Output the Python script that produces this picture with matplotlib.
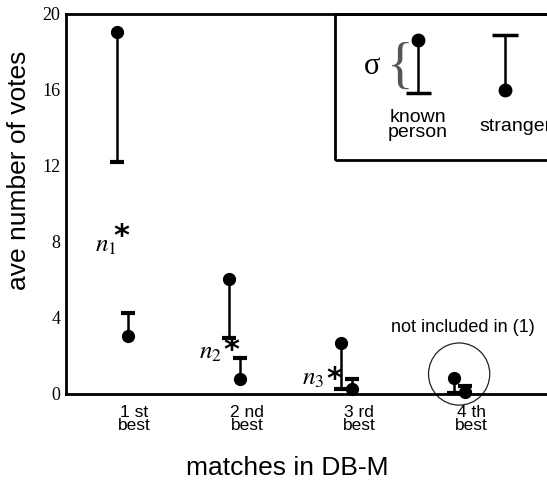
import matplotlib.pyplot as plt
from matplotlib.patches import Ellipse, Rectangle

# data
ranks = [1, 2, 3, 4]
rank_labels = ["1 st\nbest", "2 nd\nbest", "3 rd\nbest", "4 th\nbest"]
known_mean = [19.05, 6.05, 2.7, 0.83]
known_low = [12.2, 2.97, 0.25, 0.07]
stranger_mean = [3.06, 0.81, 0.28, 0.12]
stranger_high = [4.25, 1.9, 0.8, 0.42]
n_labels = [r"$n_1$", r"$n_2$", r"$n_3$"]
n_pos = [(0.85, 7.85), (1.79, 2.2), (2.70, 0.85)]
star_pos = [(0.99, 8.3), (1.97, 2.3), (2.89, 0.75)]

plt.rcParams["mathtext.fontset"] = "stix"
sans = "Liberation Sans"
serif = "Liberation Serif"

fig = plt.figure(figsize=(5.47, 4.8), dpi=100)
ax = fig.add_axes([66 / 547, 86 / 480, 483 / 547, 380 / 480])

off = 0.05
for x, m, lo in zip(ranks, known_mean, known_low):
    ax.plot([x - off, x - off], [lo, m], color="black", lw=1.8, clip_on=False)
    ax.plot([x - off], [lo], marker="_", ms=9.5, mew=3, color="black", clip_on=False)
    ax.plot([x - off], [m], marker="o", ms=8.5, color="black", clip_on=False)
for x, m, hi in zip(ranks, stranger_mean, stranger_high):
    ax.plot([x + off, x + off], [m, hi], color="black", lw=1.8, clip_on=False)
    ax.plot([x + off], [hi], marker="_", ms=9.5, mew=3, color="black", clip_on=False)
    ax.plot([x + off], [m], marker="o", ms=8.5, color="black", clip_on=False)

# n_i* annotations
for lab, (x, y) in zip(n_labels, n_pos):
    ax.text(x, y, lab, fontsize=18, ha="center", va="center")
for x, y in star_pos:
    ax.text(x, y, "*", fontsize=22, fontweight="bold",
            family="DejaVu Sans", ha="center", va="center")

# circle around 4th best
ax.add_patch(Ellipse((4.0, 1.05), 0.545, 3.27, fill=False, lw=0.9,
                     edgecolor="#222222", clip_on=False))
ax.text(4.03, 3.48, "not included in (1)", fontsize=13, family=sans,
        ha="center", va="center")

ax.set_xlim(0.5, 4.8)
ax.set_ylim(0, 20)
ax.set_yticks([0, 4, 8, 12, 16, 20])
ax.set_yticklabels(["0", "4", "8", "12", "16", "20"], family=serif, fontsize=13)
ax.set_xticks([r + 0.11 for r in ranks])
ax.set_xticklabels(rank_labels, family=sans, fontsize=12.5, linespacing=0.85)
ax.tick_params(axis="both", length=0, pad=4)
ax.tick_params(axis="x", pad=8)
for s in ["left", "bottom", "top"]:
    ax.spines[s].set_linewidth(2)
ax.spines["right"].set_visible(False)

fig.text(19 / 547, 1 - 170 / 480, "ave number of votes", rotation=90,
         family=sans, fontsize=19, ha="center", va="center")
fig.text(287 / 547, 1 - 468 / 480, "matches in DB-M", family=sans,
         fontsize=19, ha="center", va="center")

# legend box, in axes fraction
t = ax.transAxes
ax.add_patch(Rectangle((0.557, 0.616), 0.6, 0.384, fill=False, lw=2,
                       edgecolor="black", transform=t, clip_on=False))
ax.text(0.634, 0.863, "σ", transform=t, fontsize=22, family=serif,
        ha="center", va="center")
ax.text(0.692, 0.855, "{", transform=t, fontsize=40, family=serif,
        fontweight="light", ha="center", va="center", color="#555555")
ax.plot([0.729, 0.729], [0.792, 0.932], color="black", lw=1.8, transform=t, clip_on=False)
ax.plot([0.729], [0.792], marker="_", ms=18, mew=2.5, color="black", transform=t, clip_on=False)
ax.plot([0.729], [0.932], marker="o", ms=9, color="black", transform=t, clip_on=False)
ax.plot([0.909, 0.909], [0.80, 0.945], color="black", lw=1.8, transform=t, clip_on=False)
ax.plot([0.909], [0.945], marker="_", ms=19, mew=2.5, color="black", transform=t, clip_on=False)
ax.plot([0.909], [0.80], marker="o", ms=9, color="black", transform=t, clip_on=False)
ax.text(0.729, 0.708, "known\nperson", transform=t, fontsize=14, family=sans,
        ha="center", va="center", linespacing=0.85)
ax.text(0.93, 0.703, "stranger", transform=t, fontsize=14, family=sans,
        ha="center", va="center")

fig.savefig("out.png", dpi=100)
